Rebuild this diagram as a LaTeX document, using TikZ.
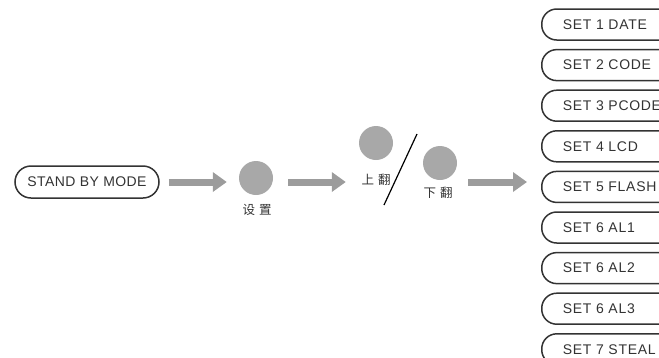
\documentclass[tikz,border=0pt]{standalone}
\usepackage{fontspec}
\setmainfont{Liberation Sans}
\newfontfamily\cjk{Noto Sans CJK SC}
\usetikzlibrary{arrows.meta}
\definecolor{dotgray}{HTML}{A8A8A8}
\definecolor{arrowgray}{HTML}{9C9C9C}
\definecolor{txtgray}{HTML}{333333}
\begin{document}
\begin{tikzpicture}[x=1pt,y=-1pt,
  pill/.style={draw=txtgray, line width=1.5pt, rounded corners=15pt, minimum height=31pt,
    text=txtgray, font=\addfontfeatures{LetterSpace=5}\fontsize{14}{16}\selectfont},
  setbox/.style={pill, anchor=west, minimum width=150pt, text width=108pt, align=left, inner xsep=21pt},
  dot/.style={circle, fill=dotgray, minimum size=34pt, inner sep=0pt},
  cjklabel/.style={text=txtgray, font=\cjk\fontsize{12.5}{14}\selectfont, inner sep=0pt},
  bigarrow/.style={draw=arrowgray, line width=7pt, -{Triangle[length=14pt,width=19pt]}}
]
\useasboundingbox (0,0) rectangle (659,357);
\clip (0,0) rectangle (659,357);

\node[pill, minimum width=144pt, minimum height=32pt, rounded corners=16pt,
  font=\addfontfeatures{LetterSpace=3}\fontsize{14}{16}\selectfont] (sb) at (87,182) {STAND BY MODE};

\node[dot] (c1) at (256,178) {};
\node[cjklabel] (l1) at (257,210) {设\hspace{4pt}置};

\node[dot] (cu) at (376,143) {};
\node[cjklabel] (lu) at (376,180) {上\hspace{4pt}翻};
\node[dot] (cd) at (440,163) {};
\node[cjklabel] (ld) at (438,193) {下\hspace{4pt}翻};
\coordinate (s1) at (417,134);
\coordinate (s2) at (384,205);
\draw[line width=1.2pt, black] (s1) -- (s2);

\foreach \i/\t in {1/SET 1 DATE,2/SET 2 CODE,3/SET 3 PCODE,4/SET 4 LCD,5/SET 5 FLASH,6/SET 6 AL1,7/SET 6 AL2,8/SET 6 AL3,9/SET 7 STEAL}{
  \node[setbox] (b\i) at (541,{24.5+(\i-1)*40.6}) {\t};
}

\draw[bigarrow, shorten <=9pt, shorten >=12pt] (sb.east) -- (c1.west |- sb);
\draw[bigarrow, shorten <=15pt, shorten >=13pt] (c1.east |- sb) -- (cu.west |- sb);
\draw[bigarrow, shorten <=11pt, shorten >=14pt] (cd.east |- sb) -- (b5.west |- sb);
\end{tikzpicture}
\end{document}
